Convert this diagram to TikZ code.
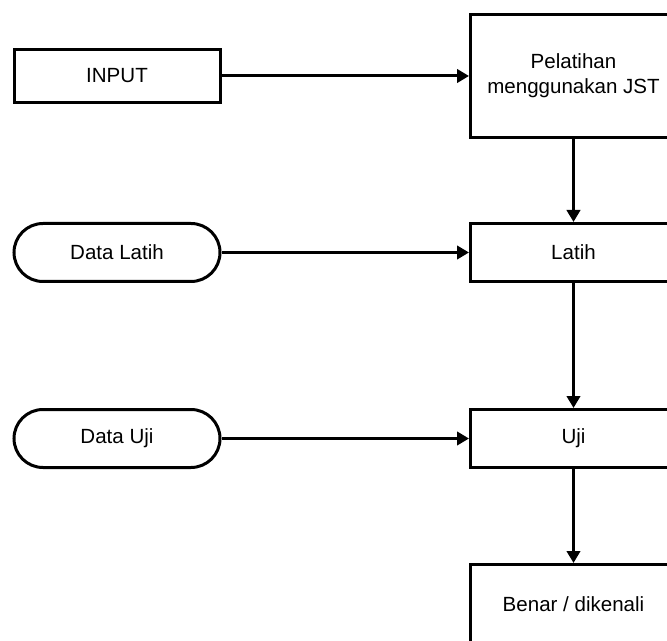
\documentclass[tikz,border=0pt]{standalone}
\usepackage{fontspec}
\setmainfont{Liberation Sans}
\usetikzlibrary{shapes.misc,arrows.meta}
\begin{document}
\begin{tikzpicture}[x=0.75pt,y=-0.75pt,
  every node/.style={font=\fontsize{15.4}{18.75}\selectfont, text=black},
  boxnode/.style={draw, line width=2.25pt, rectangle, inner sep=0pt, minimum width=154.5pt, align=center},
  pillnode/.style={draw, line width=2.25pt, rounded rectangle, inner sep=0pt, minimum width=154.5pt, minimum height=43.5pt},
  conn/.style={line width=2.25pt, -{Triangle[length=9pt,width=10pt]}}]
\useasboundingbox (0,0) rectangle (667,641);
\clip (0,0) rectangle (667,641);
\node[boxnode, minimum height=39.75pt] (input) at (117,76) {INPUT};
\node[boxnode, minimum height=92pt] (pel) at (573.5,75.75) {Pelatihan\\menggunakan JST};
\node[pillnode] (dl) at (117,252.5) {Data Latih};
\node[boxnode, minimum height=43.5pt] (latih) at (573.5,252.5) {Latih};
\node[pillnode] (du) at (117,438.5) {Data Uji};
\node[boxnode, minimum height=43.5pt] (uji) at (573.5,438.5) {Uji};
\node[boxnode, minimum height=59.25pt] (benar) at (573.5,604) {Benar / dikenali};
\draw[conn] (input.east) -- (input.east -| pel.west);
\draw[conn] (dl.east) -- (dl.east -| latih.west);
\draw[conn] (du.east) -- (du.east -| uji.west);
\draw[conn] (pel.south) -- (latih.north);
\draw[conn] (latih.south) -- (uji.north);
\draw[conn] (uji.south) -- (benar.north);
\end{tikzpicture}
\end{document}
